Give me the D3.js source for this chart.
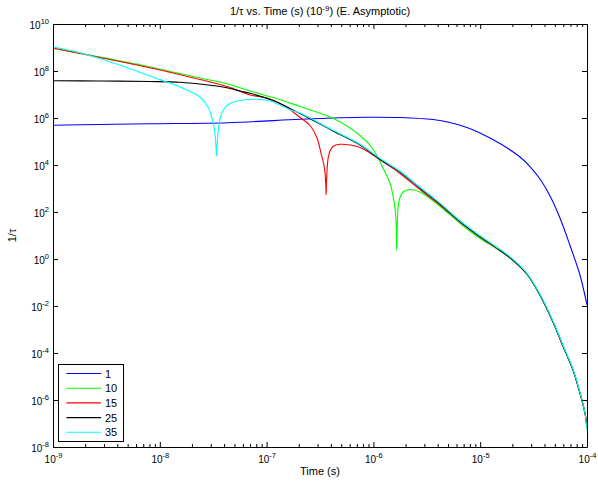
<!DOCTYPE html>
<html><head><meta charset="utf-8">
<script src="https://cdn.jsdelivr.net/npm/d3@7"></script>
<style>
body{margin:0;background:#fff}
svg text{font-family:"Liberation Sans",Arial,Helvetica,sans-serif;fill:#000}
</style>
</head><body>
<svg id="c" width="598" height="487"></svg>
<script>
// ---- data (log10 of time in s, log10 of 1/tau) ----
const seriesNames  = ["1","10","15","25","35"];
const seriesColors = ["#0000ff","#00ff00","#ff0000","#000000","#00ffff"];

const logT_1 = [-9.000,-8.560,-8.092,-7.361,-6.687,-6.313,-6.060,-5.751,-5.442,-5.283,-5.124,-5.002,-4.815,-4.627,-4.534,-4.440,-4.346,-4.253,-4.159,-4.066,-4.000];
const logV_1 = [5.689,5.723,5.753,5.800,5.945,6.009,6.030,6.021,5.936,5.809,5.596,5.362,4.915,4.340,3.936,3.404,2.681,1.745,0.574,-0.681,-1.957];

const logT_10 = [-9.000,-8.560,-8.092,-7.624,-7.361,-7.155,-6.921,-6.687,-6.378,-6.125,-6.004,-5.910,-5.845,-5.816,-5.798,-5.7865,-5.782,-5.776,-5.7669,-5.7556,-5.7228,-5.657,-5.564,-5.376,-5.189,-5.002,-4.908,-4.815,-4.693,-4.562,-4.440,-4.318,-4.225,-4.131,-4.066,-4.019,-4.000];
const logV_10 = [8.979,8.596,8.170,7.702,7.447,7.149,6.851,6.489,5.987,5.255,4.681,3.872,3.234,2.681,2.170,1.447,0.383,1.574,2.255,2.553,2.851,2.957,2.851,2.234,1.519,0.872,0.617,0.340,-0.064,-0.650,-1.540,-2.690,-3.710,-4.730,-5.710,-6.560,-7.200];

const logT_15 = [-9.000,-8.560,-8.092,-7.624,-7.361,-7.155,-6.996,-6.828,-6.687,-6.594,-6.528,-6.491,-6.467,-6.453,-6.4466,-6.4429,-6.4391,-6.4326,-6.422,-6.406,-6.378,-6.313,-6.219,-6.125,-6.032,-5.938,-5.751,-5.564,-5.376,-5.189,-5.002,-4.815,-4.693,-4.562,-4.440,-4.318,-4.225,-4.131,-4.066,-4.019,-4.000];
const logV_15 = [8.966,8.574,8.140,7.638,7.332,6.979,6.851,6.511,6.020,5.681,5.149,4.511,4.085,3.660,3.234,2.723,3.277,3.872,4.340,4.596,4.787,4.881,4.851,4.745,4.511,4.221,3.638,2.957,2.298,1.574,0.936,0.362,-0.055,-0.645,-1.536,-2.686,-3.706,-4.727,-5.706,-6.556,-7.195];

const logT_25 = [-9.000,-8.560,-8.092,-7.811,-7.549,-7.361,-7.249,-7.155,-6.940,-6.687,-6.378,-6.125,-5.938,-5.751,-5.564,-5.376,-5.189,-5.002,-4.815,-4.693,-4.562,-4.440,-4.318,-4.225,-4.131,-4.066,-4.019,-4.000];
const logV_25 = [7.587,7.574,7.553,7.523,7.404,7.277,7.149,7.051,6.745,6.191,5.447,4.851,4.243,3.702,3.021,2.340,1.596,0.957,0.383,-0.043,-0.638,-1.532,-2.681,-3.702,-4.723,-5.702,-6.553,-7.191];

const logT_35 = [-9.000,-8.794,-8.579,-8.270,-8.017,-7.858,-7.736,-7.624,-7.549,-7.511,-7.488,-7.476,-7.469,-7.462,-7.450,-7.432,-7.399,-7.352,-7.296,-7.202,-7.090,-6.968,-6.846,-6.762,-6.687,-6.378,-6.125,-5.938,-5.751,-5.564,-5.376,-5.189,-5.002,-4.815,-4.693,-4.562,-4.440,-4.318,-4.225,-4.131,-4.066,-4.019,-4.000];
const logV_35 = [9.021,8.830,8.553,8.085,7.660,7.404,7.170,6.894,6.468,6.000,5.489,4.936,4.383,4.979,5.574,6.043,6.383,6.596,6.702,6.774,6.796,6.723,6.489,6.319,6.213,5.477,4.881,4.277,3.732,3.051,2.370,1.626,0.987,0.413,-0.013,-0.609,-1.502,-2.651,-3.672,-4.694,-5.672,-6.553,-7.319];

const xTickExp = [-9,-8,-7,-6,-5,-4];
const yTickExp = [-8,-6,-4,-2,0,2,4,6,8,10];
const titleParts = ["1/\u03C4 vs. Time (s) (10", "-9", ") (E. Asymptotic)"];
const xLabel = "Time (s)";
const yLabel = "1/\u03C4";

// ---- build ----
const seriesT = [logT_1, logT_10, logT_15, logT_25, logT_35];
const seriesV = [logV_1, logV_10, logV_15, logV_25, logV_35];
const series = seriesNames.map((n,i)=>({
  name:n, color:seriesColors[i],
  pts: seriesT[i].map((t,j)=>[Math.pow(10,t), Math.pow(10,seriesV[i][j])])
}));

const m = {l:53, r:587, t:24, b:447};
const x = d3.scaleLog().domain([1e-9,1e-4]).range([m.l,m.r]);
const y = d3.scaleLog().domain([1e-8,1e10]).range([m.b,m.t]);

const svg = d3.select("#c");
svg.append("defs").append("clipPath").attr("id","clip")
  .append("rect").attr("x",m.l).attr("y",m.t).attr("width",m.r-m.l).attr("height",m.b-m.t);

const line = d3.line().x(d=>x(d[0])).y(d=>y(d[1])).curve(d3.curveCatmullRom.alpha(0.5));
svg.append("g").attr("clip-path","url(#clip)")
  .selectAll("path").data(series).join("path")
  .attr("d",d=>line(d.pts)).attr("fill","none")
  .attr("stroke",d=>d.color).attr("stroke-width",1.1);

// ticks
const xMajor = xTickExp.map(e=>Math.pow(10,e));
const xMinor = [];
xTickExp.slice(0,-1).forEach(e=>{ for(let k=2;k<=9;k++) xMinor.push(k*Math.pow(10,e)); });
const xAll = xMajor.concat(xMinor);
const isMajor = d => Math.abs(Math.log10(d)-Math.round(Math.log10(d)))<1e-6;
const yMajor = yTickExp.map(e=>Math.pow(10,e));

function styleAxis(g){
  g.attr("font-family",null).attr("font-size",null);
  g.selectAll(".domain").attr("stroke","#000").attr("stroke-width",1);
  g.selectAll(".tick line").attr("stroke","#000");
  g.selectAll(".tick text").remove();
}
const gB = svg.append("g").attr("transform",`translate(0,${m.b})`)
  .call(d3.axisBottom(x).tickValues(xAll).tickSizeInner(-5).tickSizeOuter(0).tickFormat(""));
styleAxis(gB);
gB.selectAll(".tick line").attr("y2",d=>isMajor(d)?-5:-3);
const gT = svg.append("g").attr("transform",`translate(0,${m.t})`)
  .call(d3.axisTop(x).tickValues(xAll).tickSizeInner(-5).tickSizeOuter(0).tickFormat(""));
styleAxis(gT);
gT.selectAll(".tick line").attr("y2",d=>isMajor(d)?5:3);
const gL = svg.append("g").attr("transform",`translate(${m.l},0)`)
  .call(d3.axisLeft(y).tickValues(yMajor).tickSizeInner(-5).tickSizeOuter(0).tickFormat(""));
styleAxis(gL);
const gR = svg.append("g").attr("transform",`translate(${m.r},0)`)
  .call(d3.axisRight(y).tickValues(yMajor).tickSizeInner(-5).tickSizeOuter(0).tickFormat(""));
styleAxis(gR);

// tick labels with superscript
gB.selectAll(".tick").filter(isMajor).append("text")
  .attr("text-anchor","middle").attr("y",16).attr("font-size",10)
  .each(function(d){
    const t=d3.select(this);
    t.append("tspan").text("10");
    t.append("tspan").attr("dy",-5).attr("font-size",7.5).text(String(Math.round(Math.log10(d))));
  });
gL.selectAll(".tick").append("text")
  .attr("text-anchor","end").attr("x",-4).attr("y",4).attr("font-size",10)
  .each(function(d){
    const t=d3.select(this);
    t.append("tspan").text("10");
    t.append("tspan").attr("dy",-5).attr("font-size",7.5).text(String(Math.round(Math.log10(d))));
  });

// title and axis labels
const title = svg.append("text").attr("x",(m.l+m.r)/2).attr("y",15)
  .attr("text-anchor","middle").attr("font-size",11);
title.append("tspan").text(titleParts[0]);
title.append("tspan").attr("dy",-4).attr("font-size",8).text(titleParts[1]);
title.append("tspan").attr("dy",4).text(titleParts[2]);
svg.append("text").attr("x",(m.l+m.r)/2).attr("y",475).attr("text-anchor","middle")
  .attr("font-size",11).text(xLabel);
svg.append("text").attr("transform",`translate(16,${(m.t+m.b)/2}) rotate(-90)`)
  .attr("text-anchor","middle").attr("font-size",11).text(yLabel);

// legend
const lg = svg.append("g");
lg.append("rect").attr("x",58.5).attr("y",364.5).attr("width",65).attr("height",77)
  .attr("fill","#fff").attr("stroke","#000").attr("stroke-width",1);
const le = lg.selectAll("g.e").data(series).join("g").attr("class","e")
  .attr("transform",(d,i)=>`translate(0,${373.5+i*14.7})`);
le.append("line").attr("x1",66.5).attr("x2",101).attr("stroke",d=>d.color).attr("stroke-width",1.1);
le.append("text").attr("x",105).attr("y",4).attr("font-size",11).text(d=>d.name);
</script>
</body></html>
